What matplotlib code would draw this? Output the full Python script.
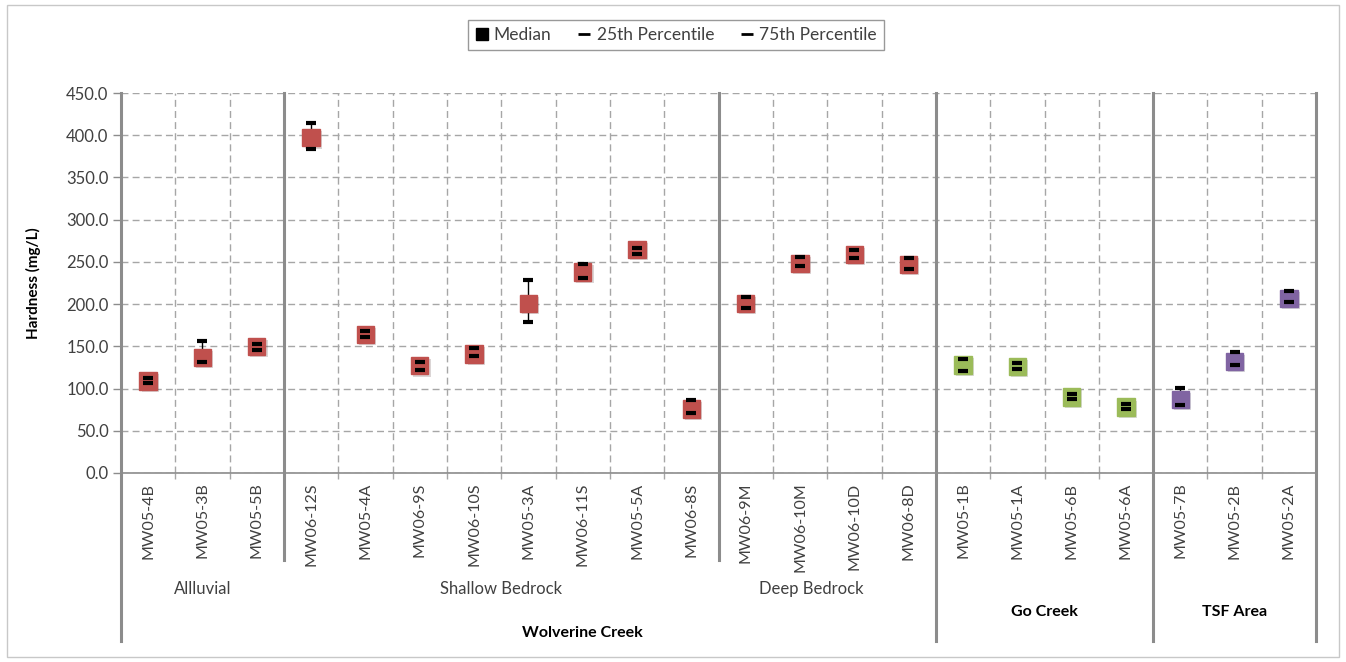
import numpy as np
import matplotlib.pyplot as plt
import matplotlib.transforms as mtransforms
from matplotlib.patches import Rectangle
from matplotlib.lines import Line2D
import matplotlib.patheffects as pe

plt.rcParams['font.family'] = ['Lato', 'DejaVu Sans']

# data
wells = ["MW05-4B", "MW05-3B", "MW05-5B",
         "MW06-12S", "MW05-4A", "MW06-9S", "MW06-10S", "MW05-3A", "MW06-11S", "MW05-5A", "MW06-8S",
         "MW06-9M", "MW06-10M", "MW06-10D", "MW06-8D",
         "MW05-1B", "MW05-1A", "MW05-6B", "MW05-6A",
         "MW05-7B", "MW05-2B", "MW05-2A"]
median = [109, 137, 150,
          397, 164, 127, 141, 201, 238, 265, 76,
          201, 248, 259, 247,
          128, 126, 90, 78,
          87, 132, 207]
p25 = [106, 131, 146,
       384, 161, 122, 139, 179, 231, 259, 71,
       195, 245, 255, 241,
       121, 123, 88, 76,
       81, 128, 203]
p75 = [112, 156, 153,
       415, 168, 131, 148, 229, 248, 266, 86,
       208, 256, 264, 255,
       135, 130, 93, 82,
       101, 143, 216]
area = ["Wolverine Creek"] * 15 + ["Go Creek"] * 4 + ["TSF Area"] * 3

area_colors = {"Wolverine Creek": "#C0504D", "Go Creek": "#9BBB59", "TSF Area": "#8064A2"}
grid_c = "#A6A6A6"
sep_c = "#8C8C8C"

fig = plt.figure(figsize=(13.46, 6.62), dpi=100)
fig.patches.append(Rectangle((0.005, 0.008), 0.99, 0.984, transform=fig.transFigure,
                             fill=False, edgecolor="#C8C8C8", lw=1))
ax = fig.add_axes([0.0899, 0.2855, 0.8879, 0.574])

x = np.arange(len(wells))
cols = [area_colors[a] for a in area]

ax.vlines(x, p25, p75, color="black", lw=1, zorder=3)
shadow = [pe.SimplePatchShadow(offset=(1.5, -1.5), alpha=0.18), pe.Normal()]
for xi, m, c in zip(x, median, cols):
    ax.plot(xi, m, "s", ms=12.5, color=c, mec=c, zorder=4, path_effects=shadow)
ax.plot(x, p25, "_", ms=7, mew=3, color="black", zorder=5, ls="none")
ax.plot(x, p75, "_", ms=7, mew=3, color="black", zorder=5, ls="none")

ax.set_xlim(-0.5, len(wells) - 0.5)
ax.set_ylim(0, 450)
ax.set_yticks(np.arange(0, 451, 50))
ax.set_yticklabels([f"{v:.1f}" for v in np.arange(0, 451, 50)], fontsize=12, color="#404040")
ax.set_xticks(x)
ax.set_xticklabels(wells, rotation=90, fontsize=11.5, color="#404040")
bounds = np.arange(0.5, len(wells) - 1, 1)
ax.set_xticks(bounds, minor=True)
ax.tick_params(axis="x", which="major", length=0, pad=7)
ax.tick_params(axis="x", which="minor", length=4, color=grid_c, width=1)
ax.tick_params(axis="y", length=6, color=sep_c, width=1, pad=3)

ax.grid(axis="y", ls=(0, (5, 3)), color=grid_c, lw=1)
ax.grid(axis="x", which="minor", ls=(0, (5, 3)), color=grid_c, lw=1)
ax.set_axisbelow(True)
for s in ["top", "left", "right"]:
    ax.spines[s].set_visible(False)
ax.spines["bottom"].set_color(sep_c)
ax.spines["bottom"].set_linewidth(1.2)

ax.set_ylabel("Hardness (mg/L)", fontsize=11, fontweight="bold", labelpad=18)

# group separators extending below the axis
trans = mtransforms.blended_transform_factory(ax.transData, ax.transAxes)
for b in [2.5, 10.5]:
    ax.plot([b, b], [1, -0.229], color=sep_c, lw=2.2, transform=trans, clip_on=False, zorder=2)
for b in [-0.5, 14.5, 18.5, len(wells) - 0.5]:
    ax.plot([b, b], [1, -0.442], color=sep_c, lw=2.2, transform=trans, clip_on=False, zorder=2)

unit_names = ["Allluvial", "Shallow Bedrock", "Deep Bedrock"]
unit_pos = [1.0, 6.5, 12.2]
for name, p in zip(unit_names, unit_pos):
    ax.text(p, -0.305, name, transform=trans, ha="center", va="center", fontsize=12, color="#404040")
area_names = ["Wolverine Creek", "Go Creek", "TSF Area"]
area_pos = [8.0, 16.5, 20.0]
area_y = [-0.421, -0.366, -0.366]
for name, p, yy in zip(area_names, area_pos, area_y):
    ax.text(p, yy, name, transform=trans, ha="center", va="center", fontsize=11.5, fontweight="bold")

handles = [Line2D([], [], marker="s", ls="none", color="black", ms=8),
           Line2D([], [], marker="_", ls="none", color="black", ms=8, mew=2),
           Line2D([], [], marker="_", ls="none", color="black", ms=8, mew=2)]
leg = fig.legend(handles, ["Median", "25th Percentile", "75th Percentile"], loc="center",
                 bbox_to_anchor=(0.502, 0.947), ncol=3, frameon=True, fancybox=False,
                 fontsize=12.5, handlelength=0.8, handletextpad=0.3, columnspacing=1.5,
                 borderpad=0.4, labelcolor="#404040")
leg.get_frame().set_edgecolor("#808080")
leg.get_frame().set_linewidth(1)

fig.savefig("out.png", dpi=100)
